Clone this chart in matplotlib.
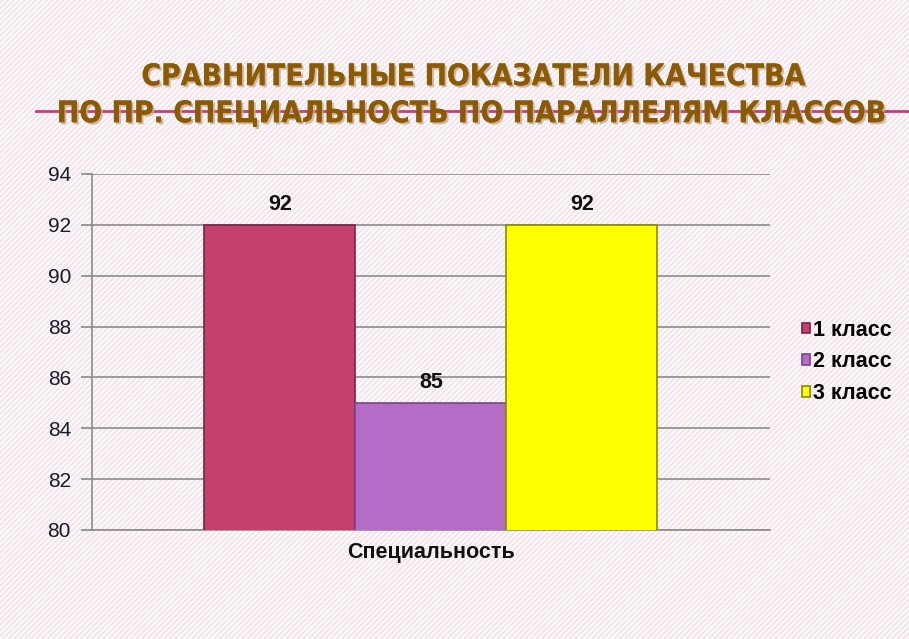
import matplotlib.pyplot as plt
import matplotlib.patches as mpatches
import matplotlib.patheffects as pe
import numpy as np

categories = ['Специальность']
series = ['1 класс', '2 класс', '3 класс']
values = [92, 85, 92]
colors = ['#C4416E', '#B56CC6', '#FFFF00']
edges = ['#7A2345', '#7A4488', '#8A8A00']
yticks = [80, 82, 84, 86, 88, 90, 92, 94]

plt.rcParams['font.family'] = ['Liberation Sans', 'DejaVu Sans']
plt.rcParams['hatch.color'] = '#FFFFFF'
plt.rcParams['hatch.linewidth'] = 1.2

fig = plt.figure(figsize=(9.09, 6.39), dpi=100)
fig.patch.set_facecolor('#F4E4EC')

# striped background
bg = mpatches.Rectangle((0, 0), 1, 1, transform=fig.transFigure, facecolor='#F4E4EC',
                        edgecolor='#FFFFFF', hatch='//////', linewidth=0, zorder=-10)
fig.patches.append(bg)

ax = fig.add_axes([0.101, 0.1706, 0.746, 0.5571])
ax.set_facecolor('none')

x = np.arange(len(categories))
offsets = [-1, 0, 1]
for i, s in enumerate(series):
    ax.bar(x + offsets[i], values[i], width=1.0, bottom=0, color=colors[i],
           edgecolor=edges[i], linewidth=1.2, label=s, zorder=3)
    ax.text(x[0] + offsets[i], values[i] + 0.38, str(values[i]), ha='center', va='bottom',
            fontsize=15.5, fontweight='bold', color='#111111', zorder=4)

ax.set_ylim(80, 94)
ax.set_xlim(-2.245, 2.245)
ax.set_yticks(yticks)
ax.set_yticklabels([str(t) for t in yticks], fontsize=15, color='#1A1A2A')
ax.set_xticks(x)
ax.set_xticklabels(categories, fontsize=15.5, fontweight='bold', color='#111111')
ax.tick_params(axis='x', length=0, pad=9)
ax.tick_params(axis='y', length=8, color='#888888', width=1.2, pad=7)
ax.yaxis.grid(True, color='#8C8C8C', linewidth=1.2, zorder=0)
ax.set_axisbelow(True)
for side in ['top', 'right']:
    ax.spines[side].set_visible(False)
ax.spines['left'].set_color('#8C8C8C')
ax.spines['left'].set_linewidth(1.2)
ax.spines['bottom'].set_color('#8C8C8C')
ax.spines['bottom'].set_linewidth(1.2)

ax.legend(loc='center left', bbox_to_anchor=(1.018, 0.472), frameon=False,
          prop={'weight': 'bold', 'size': 15.5}, handlelength=0.4, handleheight=0.4,
          handletextpad=0.15, labelspacing=0.5)

# title
shadow = [pe.withSimplePatchShadow(offset=(1.5, -1.5), shadow_rgbFace='#C9A988', alpha=0.8), pe.Normal()]
tfont = dict(fontsize=21.5, fontweight='bold', color='#8B5A06', fontstretch='condensed',
             family=['DejaVu Sans'], path_effects=shadow)
fig.text(0.521, 0.880, 'СРАВНИТЕЛЬНЫЕ ПОКАЗАТЕЛИ КАЧЕСТВА', ha='center', va='center', **tfont)
fig.add_artist(plt.Line2D([0.04, 1.0], [0.826, 0.826], color='#C2407A', linewidth=2,
                          transform=fig.transFigure, zorder=1))
fig.text(0.519, 0.822, 'ПО ПР. СПЕЦИАЛЬНОСТЬ ПО ПАРАЛЛЕЛЯМ КЛАССОВ', ha='center', va='center',
         zorder=2, **tfont)

fig.savefig('out.png', dpi=100, facecolor=fig.get_facecolor())
